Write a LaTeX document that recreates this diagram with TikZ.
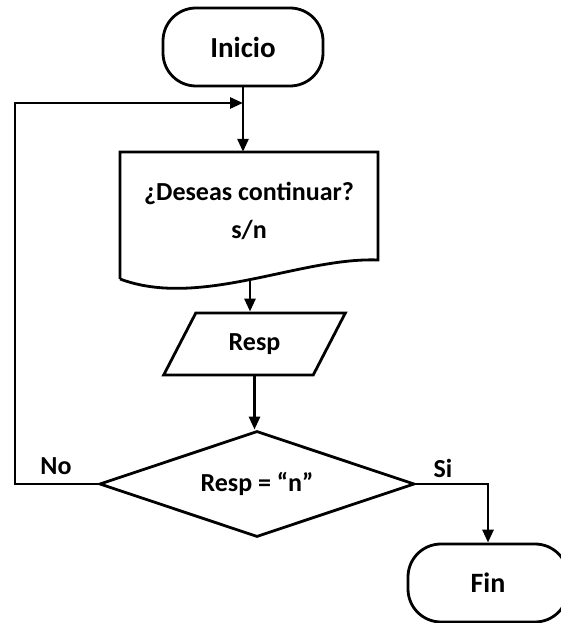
\documentclass[tikz,border=0pt]{standalone}
\usepackage{fontspec}
\setmainfont{Carlito}
\usetikzlibrary{shapes.geometric,arrows.meta}

\begin{document}
\begin{tikzpicture}[
  x=1pt, y=1pt,
  every node/.append style={font=\fontsize{26}{38}\selectfont\bfseries},
  term/.style={draw, line width=2.8pt, rectangle, rounded corners=33pt,
               minimum width=160pt, minimum height=78pt},
  docu/.style={rectangle, minimum width=258pt, minimum height=118pt, align=center},
  iobox/.style={draw, line width=2.8pt, trapezium, trapezium left angle=60,
                trapezium right angle=120, trapezium stretches=true,
                minimum width=183pt, minimum height=62pt},
  decision/.style={draw, line width=2.8pt, diamond, shape aspect=3, inner sep=0pt,
                   minimum width=315pt, minimum height=106pt},
  flow/.style={line width=2.8pt, -{Triangle[length=13pt,width=11pt]}},
  wire/.style={line width=2.8pt},
]
\useasboundingbox (0,0) rectangle (561,623);

\node[term, font=\fontsize{29}{35}\selectfont\bfseries] (ini) at (243,576) {Inicio};
\node[docu] (doc) at (249,412) {¿Deseas continuar?\\s/n};
\node[iobox] (resp) at (254.5,279) {Resp};
\node[decision] (dec) at (257,139) {Resp = “n”};
\node[term, font=\fontsize{28}{34}\selectfont\bfseries] (fin) at (488,40) {Fin};
\node (lno) at (56,157) {No};
\node (lsi) at (443,155) {Si};

% outline of the document box, wavy bottom edge
\draw[wire] (120,344) -- (120,471) -- (378,471) -- (378,363)
  .. controls (300,366) and (200,314) .. (120,344);

\coordinate (join) at (243,520);
\coordinate (loopc) at (15,520);
\coordinate (docb) at (250,342);

\draw[flow] (ini.south) -- (ini.south |- doc.north);
\draw[flow] (docb) -- (docb |- resp.north);
\draw[flow] (resp.south) -- (resp.south |- dec.north);
\draw[flow] (dec.west) -| (loopc) -- (join);
\draw[flow] (dec.east) -| (fin.north);
\end{tikzpicture}
\end{document}
